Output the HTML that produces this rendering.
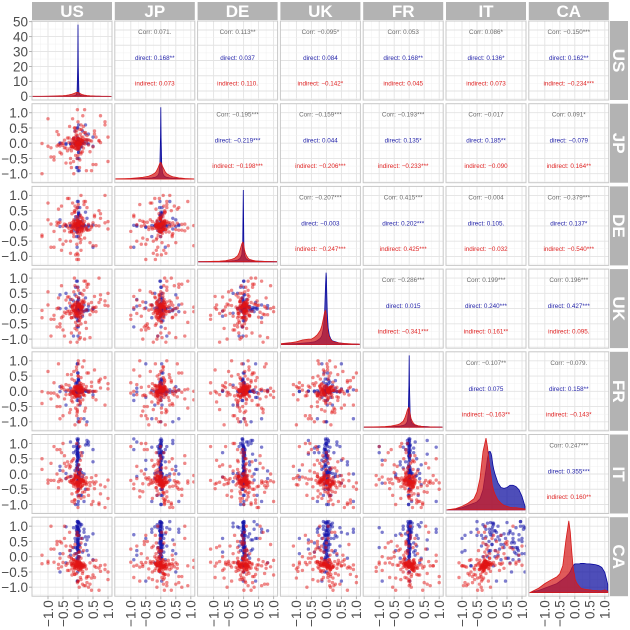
<!DOCTYPE html>
<html><head><meta charset="utf-8"><style>
html,body{margin:0;padding:0;background:#fff}
svg{display:block;font-family:"Liberation Sans",sans-serif}
</style></head><body>
<svg id="c" width="630" height="630" viewBox="0 0 630 630" xmlns="http://www.w3.org/2000/svg"></svg>
<script>
const countries=["US","JP","DE","UK","FR","IT","CA"];
const xTicks=[-1,-0.5,0,0.5,1];
const xTickLabels=["−1.0","−0.5","0.0","0.5","1.0"];
const usDiagTicks=[0,10,20,30,40,50];
const densGrid=[-1.5,-1.2,-1.0,-0.8,-0.6,-0.5,-0.4,-0.3,-0.2,-0.15,-0.1,-0.06,-0.03,-0.01,0,0.01,0.03,0.06,0.1,0.15,0.2,0.3,0.4,0.5,0.6,0.7,0.8,0.9,1.0,1.1];
const densDirectUS=[0.02,0.03,0.04,0.05,0.08,0.1,0.15,0.2,0.3,0.4,0.6,1.0,3,20,48,20,3,1.0,0.6,0.4,0.3,0.2,0.15,0.1,0.08,0.05,0.04,0.03,0.02,0.01];
const densIndirectUS=[0.05,0.1,0.15,0.25,0.4,0.5,0.7,1.0,1.5,1.9,2.3,2.6,2.7,2.7,2.6,2.5,2.3,2.0,1.6,1.2,0.9,0.6,0.4,0.3,0.2,0.15,0.1,0.08,0.06,0.04];
const densDirectJP=[0.02,0.03,0.05,0.06,0.1,0.12,0.15,0.2,0.3,0.4,0.6,1.0,2.5,7,12,7,2.5,1.0,0.6,0.4,0.3,0.2,0.15,0.12,0.1,0.06,0.05,0.04,0.03,0.02];
const densIndirectJP=[0.05,0.08,0.12,0.2,0.3,0.4,0.5,0.7,1.0,1.3,1.8,2.3,2.7,2.8,2.8,2.7,2.5,2.1,1.7,1.2,0.9,0.6,0.4,0.3,0.2,0.15,0.1,0.08,0.06,0.04];
const densDirectDE=[0.02,0.03,0.05,0.06,0.1,0.12,0.15,0.2,0.3,0.45,0.7,1.2,3,12,7,2.5,1.2,0.7,0.45,0.3,0.2,0.15,0.12,0.1,0.08,0.06,0.05,0.04,0.03,0.02];
const densIndirectDE=[0.03,0.05,0.08,0.12,0.2,0.3,0.4,0.6,1.0,1.5,2.3,3.0,3.3,3.2,2.9,2.6,2.0,1.4,1.0,0.6,0.4,0.25,0.15,0.1,0.08,0.06,0.05,0.04,0.03,0.02];
const densDirectUK=[0.05,0.08,0.1,0.15,0.2,0.25,0.3,0.45,0.7,1.0,1.8,3.5,6.5,8,7.5,6,3.5,1.8,1.0,0.6,0.4,0.3,0.2,0.15,0.1,0.08,0.06,0.05,0.04,0.03];
const densIndirectUK=[0.1,0.2,0.3,0.5,0.6,0.6,0.8,1.1,1.6,2.1,2.9,3.6,3.8,3.5,3.0,2.5,1.8,1.2,0.8,0.5,0.35,0.25,0.2,0.15,0.12,0.1,0.08,0.06,0.05,0.04];
const densDirectFR=[0.02,0.03,0.05,0.06,0.1,0.12,0.15,0.2,0.3,0.4,0.6,1.0,2.5,7,12,7,2.5,1.0,0.6,0.4,0.3,0.2,0.15,0.12,0.1,0.06,0.05,0.04,0.03,0.02];
const densIndirectFR=[0.03,0.05,0.08,0.12,0.2,0.3,0.4,0.6,1.0,1.5,2.2,2.9,3.2,3.3,3.1,2.8,2.2,1.5,1.0,0.6,0.4,0.25,0.15,0.1,0.08,0.06,0.05,0.04,0.03,0.02];
const densDirectIT=[0,0.02,0.05,0.1,0.15,0.18,0.25,0.45,0.9,1.15,1.3,1.3,1.25,1.2,1.15,1.1,1.0,0.9,0.8,0.7,0.6,0.5,0.48,0.5,0.55,0.55,0.52,0.45,0.3,0.08];
const densIndirectIT=[0,0.03,0.08,0.15,0.25,0.4,0.7,1.3,1.6,1.4,1.1,0.9,0.75,0.65,0.6,0.55,0.5,0.42,0.35,0.28,0.22,0.15,0.1,0.08,0.06,0.05,0.05,0.04,0.03,0.02];
const densDirectCA=[0,0.05,0.1,0.15,0.2,0.25,0.3,0.35,0.42,0.47,0.55,0.6,0.62,0.63,0.64,0.64,0.64,0.64,0.64,0.64,0.65,0.65,0.64,0.64,0.63,0.62,0.6,0.56,0.45,0.18];
const densIndirectCA=[0,0.1,0.2,0.28,0.35,0.42,0.6,1.15,1.6,1.35,0.9,0.6,0.45,0.4,0.35,0.3,0.27,0.22,0.18,0.14,0.1,0.08,0.07,0.06,0.05,0.05,0.04,0.04,0.06,0.03];
const directUS=[0.01,-0.02,0.00,0.03,-0.01,0.02,-0.03,0.00,0.01,-0.05,0.04,-0.02,0.00,0.02,-0.01,0.06,-0.04,0.01,0.00,-0.02,0.15,-0.25,0.3,-0.4,0.5,0.2,-0.15,0.08,-0.1,0.35,0.0,0.02,-0.03,0.01,-0.01,0.12,-0.6,0.25,-0.08,0.05];
const directJP=[0.00,0.02,-0.01,0.01,-0.03,0.03,0.00,-0.02,0.05,0.01,-0.04,0.02,-0.01,0.00,0.03,-0.06,0.01,-0.02,0.04,0.00,-0.3,0.2,-0.5,0.1,-0.8,0.4,-0.2,0.15,0.6,-0.1,0.01,-0.01,0.02,0.0,-0.03,-0.9,0.3,0.07,-0.12,0.5];
const directDE=[0.02,-0.01,0.01,-0.02,0.00,0.04,-0.03,0.01,-0.01,0.02,0.00,-0.05,0.03,0.01,-0.02,0.00,0.05,-0.01,0.02,-0.03,0.3,-0.35,0.2,0.6,-0.15,0.4,-0.7,0.1,0.25,-0.2,0.0,0.01,-0.02,0.45,0.03,0.15,-0.1,0.8,-0.05,0.35];
const directUK=[0.05,-0.03,0.02,-0.08,0.10,0.00,-0.05,0.07,-0.02,0.03,-0.10,0.04,0.01,-0.06,0.08,-0.01,0.02,-0.04,0.12,0.00,0.5,-0.4,0.3,-0.6,0.2,0.7,-0.3,0.45,-0.15,0.25,0.06,-0.02,0.03,-0.07,0.9,-0.25,0.15,-0.9,0.35,0.01];
const directFR=[0.00,0.01,-0.02,0.02,-0.01,0.03,0.00,-0.03,0.01,0.04,-0.02,0.00,0.02,-0.04,0.01,0.05,-0.01,0.00,0.03,-0.02,0.4,-0.2,0.25,-0.9,0.15,-0.45,0.6,0.1,-0.3,0.9,0.0,0.02,-0.01,0.2,-0.06,0.35,-0.12,0.08,-1.0,0.3];
const directIT=[0.0,0.8,-0.3,1.0,0.2,-0.1,0.6,0.9,-0.5,0.4,0.05,1.1,-0.2,0.7,0.1,-0.05,0.95,0.3,-0.7,0.65,0.0,0.85,-0.15,0.5,1.05,-0.35,0.15,0.75,-0.9,0.25,0.02,0.55,-0.08,1.15,0.45,-1.0,0.88,0.12,-0.25,0.7];
const directCA=[0.5,0.9,0.1,1.1,0.3,0.7,-0.1,0.8,0.2,1.0,0.6,0.0,0.95,0.4,0.75,-0.3,0.55,1.15,0.15,0.85,0.35,0.65,-0.05,1.05,0.25,0.9,0.45,-0.2,0.7,0.05,1.12,0.6,0.3,0.8,-0.5,0.98,0.4,0.2,0.72,-0.8];
const indirectUS=[0.0,0.05,-0.1,0.12,-0.05,0.02,-0.15,0.08,-0.02,0.18,-0.2,0.1,-0.08,0.03,-0.12,0.06,0.15,-0.04,0.0,-0.18,0.3,-0.4,0.5,-0.6,0.25,-0.3,0.7,-0.8,0.4,-0.5,0.9,-1.0,0.35,-0.25,0.6,-0.7,0.2,-0.35,0.45,-0.9,0.08,-0.06,0.1,-0.14,0.04,-0.03,0.16,-0.1,0.01,-0.22,0.28,-0.45,0.55,-0.65,1.0,-1.2,0.22,-0.28,0.75,-0.55];
const indirectJP=[0.03,-0.06,0.1,-0.12,0.0,0.15,-0.02,0.07,-0.18,0.05,-0.09,0.2,-0.04,0.11,-0.15,0.02,-0.07,0.13,-0.01,0.09,-0.5,0.4,-0.3,0.6,-0.8,0.25,-0.45,0.9,-0.2,0.35,-1.0,0.5,-0.65,0.3,-0.35,0.7,-0.25,1.1,-0.55,0.2,-0.05,0.12,-0.1,0.04,-0.16,0.08,0.0,-0.13,0.17,-0.03,0.45,-0.7,0.28,-0.4,0.8,-0.9,0.55,-0.28,0.38,-0.6];
const indirectDE=[-0.04,0.08,-0.12,0.02,0.14,-0.08,0.05,-0.16,0.1,-0.01,0.18,-0.06,0.0,-0.2,0.07,0.12,-0.1,0.03,-0.14,0.06,0.4,-0.6,0.7,-0.3,0.5,-0.9,0.3,-0.45,1.0,-0.2,0.6,-0.7,0.25,-1.1,0.8,-0.35,0.45,-0.5,0.35,-0.8,0.1,-0.03,0.15,-0.18,0.01,0.09,-0.07,0.2,-0.12,0.04,-0.55,0.65,-0.25,0.9,-0.4,0.28,-0.65,0.55,-0.95,0.75];
const indirectUK=[0.06,-0.1,0.02,-0.15,0.12,-0.05,0.18,-0.2,0.0,0.09,-0.08,0.15,-0.12,0.04,-0.25,0.1,-0.02,0.2,-0.18,0.07,-0.6,0.5,-0.4,0.8,-0.9,0.3,-0.7,0.6,-0.3,1.0,-1.1,0.4,-0.5,0.25,-0.8,0.7,-0.35,0.45,-0.55,0.9,-0.06,0.14,-0.16,0.03,-0.3,0.11,-0.09,0.22,-0.22,0.05,0.35,-0.45,0.55,-0.65,0.28,-0.95,0.75,-0.28,0.38,-1.0];
const indirectFR=[-0.02,0.1,-0.08,0.04,-0.14,0.12,0.0,-0.18,0.06,-0.05,0.16,-0.1,0.02,-0.12,0.08,0.19,-0.03,0.05,-0.2,0.13,0.5,-0.35,0.3,-0.7,0.8,-0.5,0.25,-1.0,0.6,-0.25,0.4,-0.8,1.0,-0.4,0.35,-0.6,0.7,-0.9,0.45,-0.3,0.03,-0.06,0.11,-0.15,0.07,-0.01,0.14,-0.11,0.0,0.17,-0.45,0.55,-0.65,0.28,-0.28,0.9,-0.55,0.65,-1.1,0.22];
const indirectIT=[-0.25,-0.3,-0.2,-0.35,-0.15,-0.28,-0.22,-0.4,-0.1,-0.32,-0.18,-0.26,-0.45,-0.05,-0.3,-0.12,-0.24,-0.38,0.0,-0.2,0.3,-0.7,0.6,-0.9,0.1,-0.55,0.45,-1.0,0.2,-0.6,0.8,-0.8,0.05,-0.5,0.35,-0.65,1.0,-0.75,0.15,-0.95,-0.27,-0.33,-0.17,-0.42,-0.08,-0.29,-0.21,-0.36,-0.13,-0.23,0.5,-0.85,0.25,-0.48,0.7,-1.1,0.4,-0.58,0.9,-0.05];
const indirectCA=[-0.27,-0.22,-0.32,-0.18,-0.35,-0.25,-0.3,-0.15,-0.4,-0.28,-0.2,-0.33,-0.1,-0.45,-0.26,-0.24,-0.12,-0.38,-0.3,-0.21,-0.7,0.2,-0.9,0.4,-0.5,0.0,-1.0,0.6,-0.6,0.1,-0.8,0.3,-1.1,0.8,-0.55,0.5,-0.75,0.15,-0.65,1.0,-0.29,-0.19,-0.34,-0.23,-0.37,-0.16,-0.31,-0.05,-0.42,-0.26,-0.85,0.25,-0.48,0.7,-0.95,0.05,-0.58,0.35,-0.68,0.45];
const corrText=["Corr: 0.071.","Corr: 0.113**","Corr: −0.095*","Corr: 0.053","Corr: 0.086*","Corr: −0.150***","Corr: −0.195***","Corr: −0.159***","Corr: −0.193***","Corr: −0.017","Corr: 0.091*","Corr: −0.207***","Corr: 0.415***","Corr: −0.004","Corr: −0.379***","Corr: −0.286***","Corr: 0.199***","Corr: 0.196***","Corr: −0.107**","Corr: −0.079.","Corr: 0.247***"];
const directText=["direct: 0.168**","direct: 0.037","direct: 0.084","direct: 0.168**","direct: 0.136*","direct: 0.162**","direct: −0.219***","direct: 0.044","direct: 0.135*","direct: 0.185**","direct: −0.079","direct: −0.003","direct: 0.202***","direct: 0.105.","direct: 0.137*","direct: 0.015","direct: 0.240***","direct: 0.427***","direct: 0.075","direct: 0.158**","direct: 0.355***"];
const indirectText=["indirect: 0.073","indirect: 0.110.","indirect: −0.142*","indirect: 0.045","indirect: 0.073","indirect: −0.234***","indirect: −0.198***","indirect: −0.206***","indirect: −0.233***","indirect: −0.090","indirect: 0.164**","indirect: −0.247***","indirect: 0.425***","indirect: −0.032","indirect: −0.540***","indirect: −0.341***","indirect: 0.161**","indirect: 0.095.","indirect: −0.163**","indirect: −0.143*","indirect: 0.160**"];

const directVals=[directUS,directJP,directDE,directUK,directFR,directIT,directCA];
const indirectVals=[indirectUS,indirectJP,indirectDE,indirectUK,indirectFR,indirectIT,indirectCA];
const densD=[densDirectUS,densDirectJP,densDirectDE,densDirectUK,densDirectFR,densDirectIT,densDirectCA];
const densI=[densIndirectUS,densIndirectJP,densIndirectDE,densIndirectUK,densIndirectFR,densIndirectIT,densIndirectCA];

const NS="http://www.w3.org/2000/svg";
const svg=document.getElementById('c');
function mk(tag,attrs,parent){const e=document.createElementNS(NS,tag);for(const k in attrs)e.setAttribute(k,attrs[k]);(parent||svg).appendChild(e);return e;}
const PW=80,PH=79;
const px=j=>32+j*82.8, py=i=>21+i*82.7;
const sx=(j,v)=>px(j)+46+30*v;
const sy=(i,v)=>py(i)+39.5-30.5*v;
function dot(parent,x,y,col){
  const c=mk('circle',{cx:x.toFixed(2),cy:y.toFixed(2),r:1.7,fill:col},parent);
  
  
}

let pairIdx=0;
for(let i=0;i<7;i++){for(let j=0;j<7;j++){
  const g=mk('g',{});
  
  
  const x0=px(j),y0=py(i);
  mk('rect',{x:x0,y:y0,width:PW,height:PH,fill:'#fff'},g);
  const minors=[-1.25,-0.75,-0.25,0.25,0.75];
  minors.forEach(v=>{const X=sx(j,v);mk('line',{x1:X,x2:X,y1:y0,y2:y0+PH,stroke:'#f0f0f0','stroke-width':0.5},g);});
  xTicks.forEach(v=>{const X=sx(j,v);mk('line',{x1:X,x2:X,y1:y0,y2:y0+PH,stroke:'#e3e3e3','stroke-width':0.9},g);});
  let diagMin=0,diagMax=1;
  if(i===j){const m=Math.max(...densD[i],...densI[i]);diagMin=-0.05*m;diagMax=1.05*m;}
  const dy=v=>y0+PH*(diagMax-v)/(diagMax-diagMin);
  if(i===0&&j===0){
    [5,15,25,35,45].forEach(v=>{const Y=dy(v);mk('line',{x1:x0,x2:x0+PW,y1:Y,y2:Y,stroke:'#f0f0f0','stroke-width':0.5},g);});
    usDiagTicks.forEach(v=>{const Y=dy(v);mk('line',{x1:x0,x2:x0+PW,y1:Y,y2:Y,stroke:'#e3e3e3','stroke-width':0.9},g);});
  } else {
    minors.forEach(v=>{const Y=sy(i,v);mk('line',{x1:x0,x2:x0+PW,y1:Y,y2:Y,stroke:'#f0f0f0','stroke-width':0.5},g);});
    xTicks.forEach(v=>{const Y=sy(i,v);mk('line',{x1:x0,x2:x0+PW,y1:Y,y2:Y,stroke:'#e3e3e3','stroke-width':0.9},g);});
  }
  const cp='cp'+i+'_'+j;
  const cl=mk('clipPath',{id:cp},g);mk('rect',{x:x0,y:y0,width:PW,height:PH},cl);
  const inner=mk('g',{'clip-path':'url(#'+cp+')'},g);
  if(i===j){
    [[densD[i],'#0a0a9e','direct'],[densI[i],'#d61a1a','indirect']].forEach(([arr,col,nm])=>{
      let d='M'+sx(j,densGrid[0])+','+dy(0);
      densGrid.forEach((v,k)=>{d+=' L'+sx(j,v).toFixed(2)+','+dy(arr[k]).toFixed(2);});
      d+=' L'+sx(j,densGrid[densGrid.length-1])+','+dy(0)+' Z';
      const p=mk('path',{d:d,fill:col,'fill-opacity':0.72,stroke:col,'stroke-width':0.8},inner);
      
      
    });
  } else if(i>j){
    [[directVals,'rgba(20,20,170,0.55)',20],[indirectVals,'rgba(225,20,20,0.5)',20]].forEach(([vals,col,core])=>{
      const xs=vals[j],ys=vals[i],n=xs.length;
      for(let rep=0;rep<2;rep++){
        for(let k=0;k<n;k++){
          const kx=(k*7+rep*11+j*3)%n, ky=(k*13+rep*17+i*5)%n;
          dot(inner,sx(j,xs[kx]),sy(i,ys[ky]),col);
        }
      }
      // dense core: central observations paired with central observations
      for(let k=0;k<core;k++){
        const kx=(k*3+j)%core, ky=(k*7+i*3)%core;
        dot(inner,sx(j,xs[kx]),sy(i,ys[ky]),col);
        if(n>40){const kx2=40+(k*3+j)%10, ky2=40+(k*7+i)%10;dot(inner,sx(j,xs[kx2]),sy(i,ys[ky2]),col);}
      }
    });
  } else {
    const cx=x0+PW/2;
    const t1=mk('text',{x:cx,y:y0+13,'text-anchor':'middle','font-size':6.3,fill:'#6b6b6b'},g);t1.textContent=corrText[pairIdx];
    
    const t2=mk('text',{x:cx,y:y0+39,'text-anchor':'middle','font-size':6.3,fill:'#1f1fa8'},g);t2.textContent=directText[pairIdx];
    
    const t3=mk('text',{x:cx,y:y0+64.5,'text-anchor':'middle','font-size':6.3,fill:'#e02424'},g);t3.textContent=indirectText[pairIdx];
    
    pairIdx++;
  }
  mk('rect',{x:x0,y:y0,width:PW,height:PH,fill:'none',stroke:'#c8c8c8','stroke-width':1},g);
}}
for(let j=0;j<7;j++){
  const s=mk('g',{});
  mk('rect',{x:px(j),y:2,width:PW,height:18,fill:'#b3b3b3'},s);
  const t=mk('text',{x:px(j)+PW/2,y:17,'text-anchor':'middle','font-size':17,'font-weight':'bold',fill:'#fff'},s);t.textContent=countries[j];
}
for(let i=0;i<7;i++){
  const s=mk('g',{});
  mk('rect',{x:610,y:py(i),width:18,height:PH,fill:'#b3b3b3'},s);
  const cy=py(i)+PH/2;
  const t=mk('text',{x:613,y:cy,'text-anchor':'middle','font-size':17,'font-weight':'bold',fill:'#fff',transform:'rotate(90 613 '+cy+')'},s);t.textContent=countries[i];
}
const yax=mk('g',{});
{const m=Math.max(...densD[0],...densI[0]);const mn=-0.05*m,mx=1.05*m;
usDiagTicks.forEach(v=>{const Y=py(0)+PH*(mx-v)/(mx-mn);
  mk('line',{x1:29,x2:32,y1:Y,y2:Y,stroke:'#b3b3b3'},yax);
  const t=mk('text',{x:28,y:Y+4.8,'text-anchor':'end','font-size':13.5,fill:'#4d4d4d'},yax);t.textContent=String(v);});}
for(let i=1;i<7;i++){xTicks.forEach((v,k)=>{const Y=sy(i,v);
  mk('line',{x1:29,x2:32,y1:Y,y2:Y,stroke:'#b3b3b3'},yax);
  const t=mk('text',{x:28,y:Y+4.8,'text-anchor':'end','font-size':13.5,fill:'#4d4d4d'},yax);t.textContent=xTickLabels[k];});}
const xax=mk('g',{});
for(let j=0;j<7;j++){xTicks.forEach((v,k)=>{const X=sx(j,v);const Y=py(6)+PH;
  mk('line',{x1:X,x2:X,y1:Y,y2:Y+3,stroke:'#b3b3b3'},xax);
  const t=mk('text',{x:X+4.8,y:Y+4,'text-anchor':'end','font-size':13.5,fill:'#4d4d4d',transform:'rotate(-90 '+(X+4.8)+' '+(Y+4)+')'},xax);t.textContent=xTickLabels[k];});}
</script>
</body></html>
